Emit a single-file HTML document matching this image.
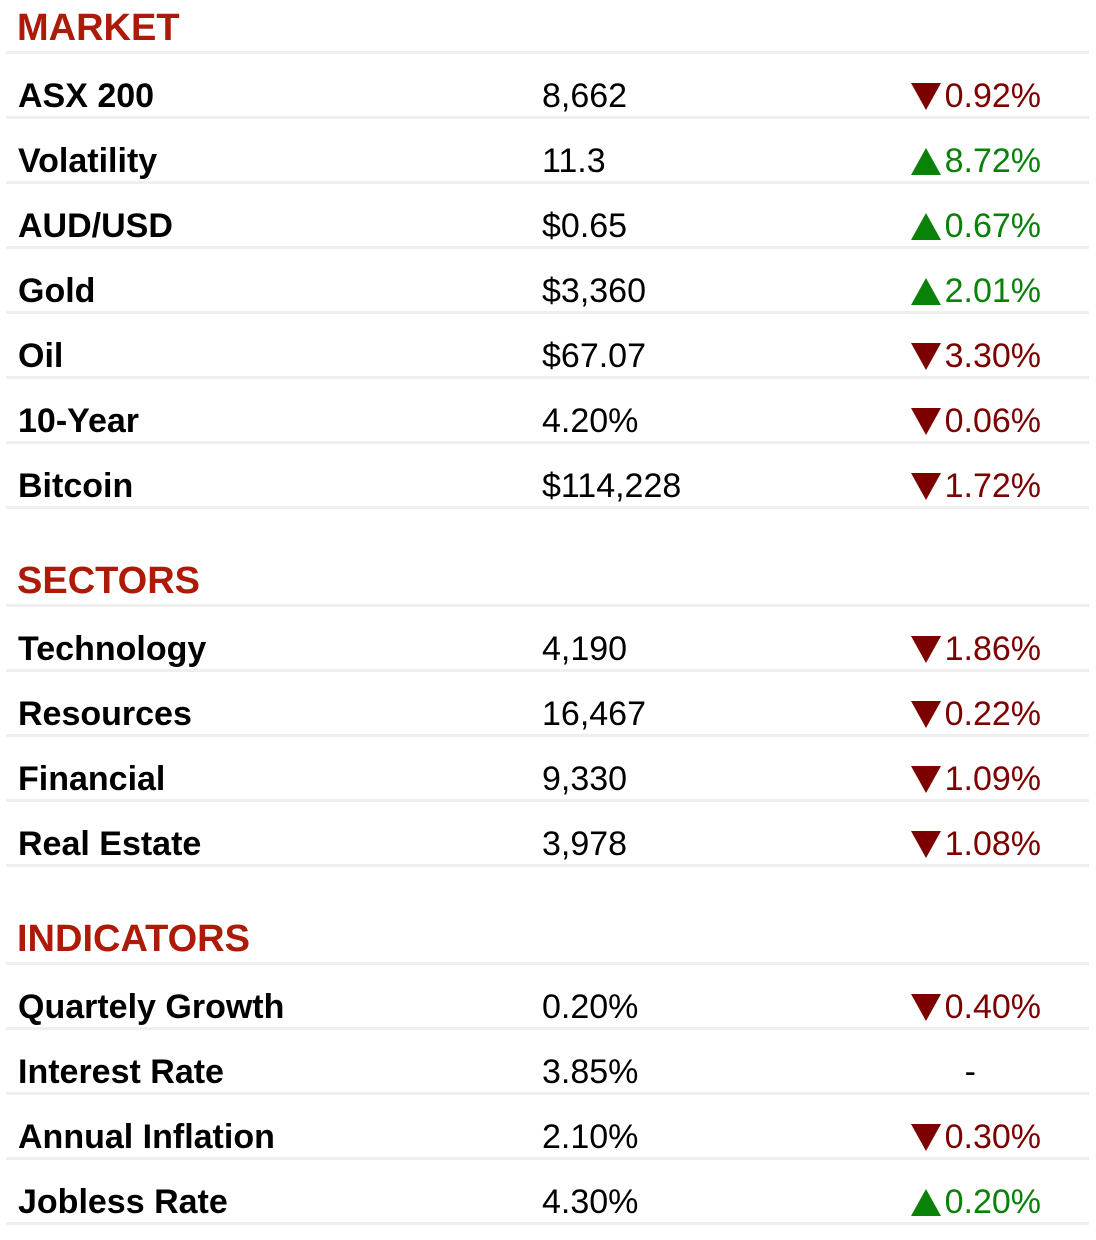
<!DOCTYPE html>
<html><head><meta charset="utf-8">
<style>
html,body{margin:0;padding:0;background:#fff;}
body{width:1096px;height:1240px;position:relative;overflow:hidden;font-family:"Liberation Sans",Arial,sans-serif;}
.line{position:absolute;left:6px;width:1083px;height:3px;background:#efefef;}
.hdr{position:absolute;left:17px;height:48px;line-height:48px;font-size:38px;font-weight:bold;color:#ad1a08;}
.name{position:absolute;left:18px;height:40px;line-height:40px;font-size:34px;font-weight:bold;color:#000;white-space:nowrap;}
.val{position:absolute;left:542px;height:40px;line-height:40px;font-size:34px;color:#000;white-space:nowrap;}
.chg{position:absolute;right:55px;height:40px;line-height:40px;font-size:34px;white-space:nowrap;display:flex;align-items:center;}
.chg svg{margin-right:4px;}
</style></head>
<body>
<script>
const sections = ["MARKET","SECTORS","INDICATORS"];
const sectionLineY = [52, 605, 963];
const names = [
 ["ASX 200","Volatility","AUD/USD","Gold","Oil","10-Year","Bitcoin"],
 ["Technology","Resources","Financial","Real Estate"],
 ["Quartely Growth","Interest Rate","Annual Inflation","Jobless Rate"]
];
const values = [
 ["8,662","11.3","$0.65","$3,360","$67.07","4.20%","$114,228"],
 ["4,190","16,467","9,330","3,978"],
 ["0.20%","3.85%","2.10%","4.30%"]
];
const changes = [
 ["0.92%","8.72%","0.67%","2.01%","3.30%","0.06%","1.72%"],
 ["1.86%","0.22%","1.09%","1.08%"],
 ["0.40%","","0.30%","0.20%"]
];
const directions = [
 ["down","up","up","up","down","down","down"],
 ["down","down","down","down"],
 ["down","none","down","up"]
];
const ROW = 65;
const body = document.body;
function add(cls, top, text){
  const d = document.createElement('div');
  d.className = cls;
  d.style.top = top + 'px';
  if (text !== undefined) d.textContent = text;
  body.appendChild(d);
  return d;
}
sections.forEach((s, si) => {
  const ly = sectionLineY[si];
  const h = add('hdr', ly - 24 - 24, s);
  
  
  const l0 = add('line', ly - 1);
  
  
  names[si].forEach((n, ri) => {
    const lineY = ly + ROW * (ri + 1);
    const cy = lineY - 21;
    const nm = add('name', cy - 20, n);
    
    
    const v = add('val', cy - 20, values[si][ri]);
    
    
    const c = add('chg', cy - 20);
    
    
    const dir = directions[si][ri];
    if (dir === 'none') {
      c.style.right = '120px';
      c.style.color = '#000';
      c.textContent = '-';
    } else {
      const col = dir === 'up' ? '#0a820a' : '#7d0000';
      c.style.color = col;
      const pts = dir === 'up' ? '0,28 15,1 30,28' : '0,1 30,1 15,28';
      c.innerHTML = '<svg width="30" height="29" viewBox="0 0 30 29"><polygon points="' + pts + '" fill="' + col + '"/></svg><span>' + changes[si][ri] + '</span>';
      
      
    }
    const l = add('line', lineY - 1);
    
    
  });
});
</script>
</body></html>
